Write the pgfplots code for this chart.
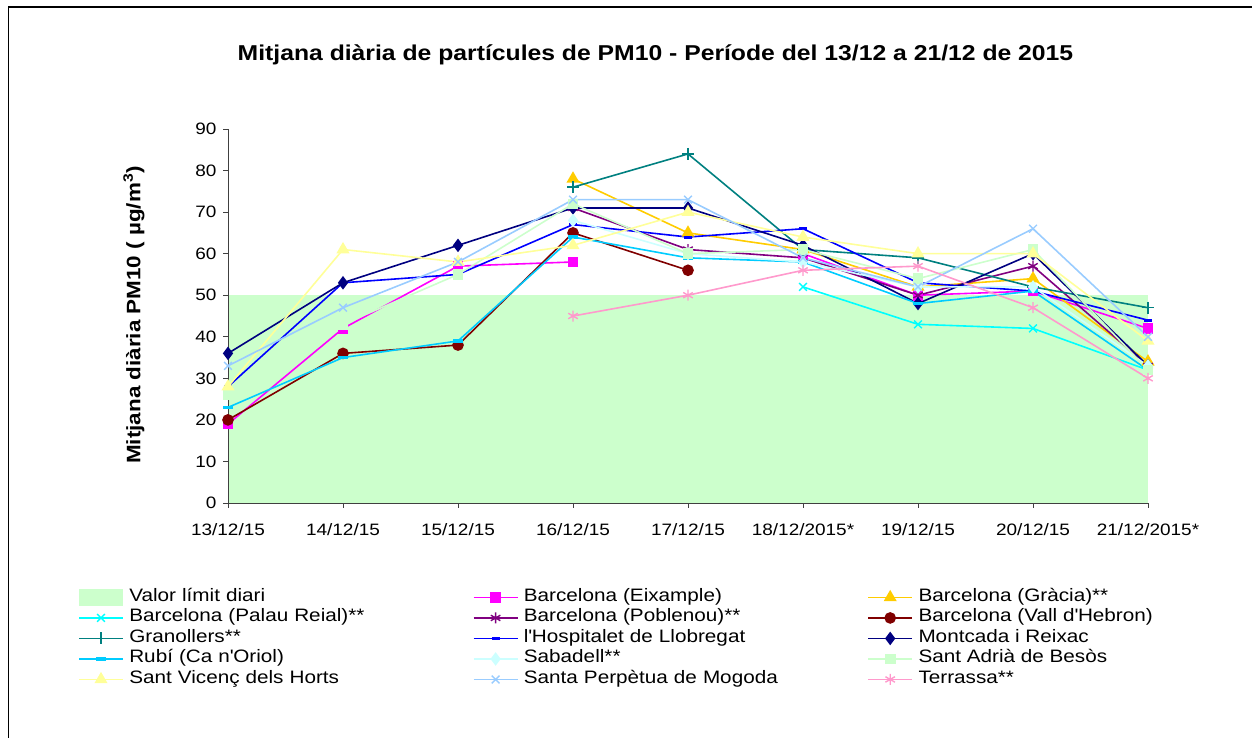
\documentclass[border=0pt]{standalone}
\usepackage{pgfplots}
\pgfplotsset{compat=1.18}
\usepackage{fontspec}
\setmainfont{Liberation Sans}[FakeStretch=1.15]
\definecolor{cLim}{HTML}{CCFFCC}
\definecolor{cEix}{HTML}{FF00FF}
\definecolor{cGra}{HTML}{FFCC00}
\definecolor{cPal}{HTML}{00FFFF}
\definecolor{cPob}{HTML}{800080}
\definecolor{cVal}{HTML}{800000}
\definecolor{cGrn}{HTML}{008080}
\definecolor{cHos}{HTML}{0000FF}
\definecolor{cMon}{HTML}{000080}
\definecolor{cRub}{HTML}{00CCFF}
\definecolor{cSab}{HTML}{CCFFFF}
\definecolor{cAdr}{HTML}{CCFFCC}
\definecolor{cVic}{HTML}{FFFF99}
\definecolor{cPer}{HTML}{99CCFF}
\definecolor{cTer}{HTML}{FF99CC}
\pgfplotsset{pm/.style={line width=1.6pt, mark size=4.5pt, mark options={solid, line width=1.4pt}}}
\begin{document}
\begin{tikzpicture}[x=1pt,y=1pt]
\useasboundingbox (0,0) rectangle (1252,738);
\draw[line width=1.2pt] (8.5,0) -- (8.5,731) -- (1252,731);
\node[font=\bfseries\fontsize{21.5}{24}\selectfont] at (655.5,683) {Mitjana diària de partícules de PM10 - Període del 13/12 a 21/12 de 2015};
\begin{axis}[
  at={(228pt,235pt)}, anchor=south west, scale only axis,
  width=920pt, height=374pt,
  xmin=0, xmax=8, ymin=0, ymax=90,
  axis x line*=bottom, axis y line*=left,
  axis line style={-, black!75, line width=0.8pt},
  xtick={0,...,8},
  xticklabels={13/12/15,14/12/15,15/12/15,16/12/15,17/12/15,18/12/2015*,19/12/15,20/12/15,21/12/2015*},
  ytick={0,10,...,90},
  tick align=outside, major tick length=5pt,
  tick style={black!75, line width=0.8pt},
  ticklabel style={font=\fontsize{16.5}{18}\selectfont},
  xticklabel style={yshift=-12pt},
  yticklabel style={xshift=-3pt},
  /pgf/number format/assume math mode=true,
  axis on top, clip=false,
  unbounded coords=jump,
  legend columns=3,
  legend cell align=left,
  legend image code/.code={\draw[mark repeat=2,mark phase=2,#1] plot coordinates {(0pt,0pt) (22pt,0pt) (44pt,0pt)};},
  legend style={at={(axis description cs:-0.16304,-0.2246)}, anchor=north west,
    draw=none, fill=none, inner sep=0pt, row sep=0pt,
    font=\fontsize{18}{20}\selectfont,
    nodes={inner sep=0.5pt, text height=13.5pt, text depth=6pt},
    /tikz/every odd column/.style={column sep=5pt},
    /tikz/column 2/.style={nodes={text width=343pt}},
    /tikz/column 4/.style={nodes={text width=343pt}}},
]
\addplot[draw=none, fill=cLim, legend image code/.code={\fill[cLim] (0pt,-8.5pt) rectangle (44pt,8.5pt);}] coordinates {(0,50) (8,50)} \closedcycle;
\addlegendentry{Valor límit diari}
\addplot[color=cEix, pm, mark=square*, mark options={fill=cEix}] coordinates {(0,19)(1,42)(2,57)(3,58)(4,nan)(5,60)(6,50)(7,51)(8,42)};
\addlegendentry{Barcelona (Eixample)}
\addplot[color=cGra, pm, mark=triangle*, mark size=6pt, mark options={fill=cGra}] coordinates {(3,78)(4,65)(5,61)(6,52)(7,54)(8,34)};
\addlegendentry{Barcelona (Gràcia)**}
\addplot[color=cPal, pm, mark=x, mark size=5.5pt] coordinates {(5,52)(6,43)(7,42)(8,32)};
\addlegendentry{Barcelona (Palau Reial)**}
\addplot[color=cPob, pm, mark=asterisk, mark size=5.5pt] coordinates {(3,71)(4,61)(5,59)(6,50)(7,57)(8,33)};
\addlegendentry{Barcelona (Poblenou)**}
\addplot[color=cVal, pm, mark=*, mark size=5pt, mark options={fill=cVal}] coordinates {(0,20)(1,36)(2,38)(3,65)(4,56)};
\addlegendentry{Barcelona (Vall d\textquotesingle Hebron)}
\addplot[color=cGrn, pm, mark=+, mark size=6pt] coordinates {(3,76)(4,84)(5,61)(6,59)(7,52)(8,47)};
\addlegendentry{Granollers**}
\addplot[color=cHos, pm, mark=-, mark size=4pt, mark options={line width=3pt}] coordinates {(0,28)(1,53)(2,55)(3,67)(4,64)(5,66)(6,53)(7,51)(8,44)};
\addlegendentry{l\textquotesingle Hospitalet de Llobregat}
\addplot[color=cMon, pm, mark=diamond*, mark size=5.5pt, mark options={fill=cMon}] coordinates {(0,36)(1,53)(2,62)(3,71)(4,71)(5,62)(6,48)(7,60)(8,33)};
\addlegendentry{Montcada i Reixac}
\addplot[color=cRub, pm, mark=-, mark size=5pt, mark options={line width=3.5pt}] coordinates {(0,23)(1,35)(2,39)(3,64)(4,59)(5,58)(6,48)(7,51)(8,32)};
\addlegendentry{Rubí (Ca n\textquotesingle Oriol)}
\addplot[color=cSab, pm, mark=diamond*, mark size=5.5pt, mark options={fill=cSab}] coordinates {(3,68)(4,60)(5,58)(6,52)(7,52)(8,33)};
\addlegendentry{Sabadell**}
\addplot[color=cAdr, pm, mark=square*, mark options={fill=cAdr}] coordinates {(0,26)(1,43)(2,55)(3,72)(4,60)(5,61)(6,54)(7,61)(8,32)};
\addlegendentry{Sant Adrià de Besòs}
\addplot[color=cVic, pm, mark=triangle*, mark size=6pt, mark options={fill=cVic}] coordinates {(0,28)(1,61)(2,58)(3,62)(4,70)(5,64)(6,60)(7,60)(8,39)};
\addlegendentry{Sant Vicenç dels Horts}
\addplot[color=cPer, pm, mark=x, mark size=5.5pt] coordinates {(0,33)(1,47)(2,58)(3,73)(4,73)(5,59)(6,52)(7,66)(8,40)};
\addlegendentry{Santa Perpètua de Mogoda}
\addplot[color=cTer, pm, mark=asterisk, mark size=5.5pt] coordinates {(3,45)(4,50)(5,56)(6,57)(7,47)(8,30)};
\addlegendentry{Terrassa**}
\end{axis}
\node[rotate=90, font=\bfseries\fontsize{19.5}{22}\selectfont] at (134,423) {Mitjana diària PM10 ( µg/m\textsuperscript{3})};
\end{tikzpicture}
\end{document}
